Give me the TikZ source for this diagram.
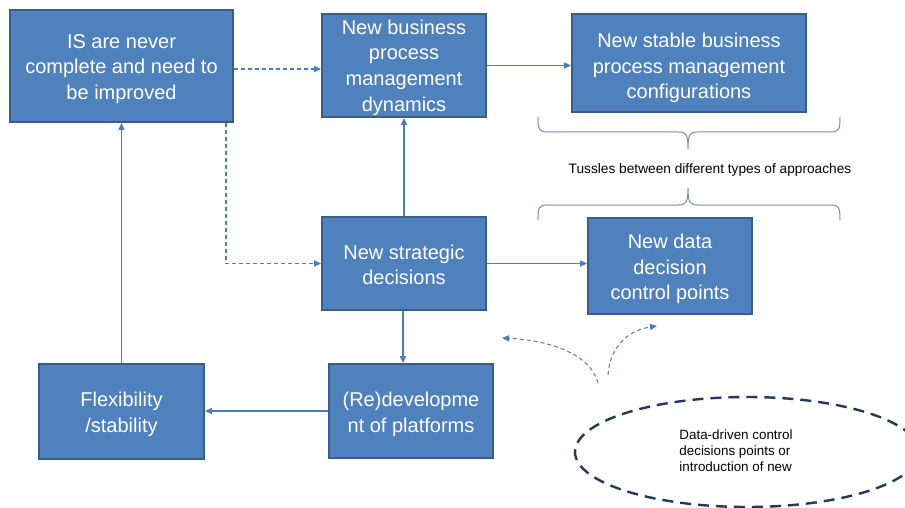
\documentclass[tikz,border=0pt]{standalone}
\usepackage{fontspec}
\setmainfont{Liberation Sans}
\usetikzlibrary{arrows.meta,shapes.geometric}
\definecolor{boxfill}{HTML}{4F81BD}
\definecolor{boxline}{HTML}{385D8A}
\definecolor{linkcol}{HTML}{4A7EBB}
\definecolor{ovalcol}{HTML}{1F3A60}
\begin{document}
\begin{tikzpicture}[x=1pt,y=-1pt,
  card/.style={draw=boxline,line width=1.8pt,fill=boxfill,inner sep=0pt},
  cardtext/.style={text=white,align=center,inner sep=0pt,yshift=-3pt,
    font=\fontsize{20}{25.7}\selectfont},
  link/.style={draw=linkcol,line width=1.2pt,-{Triangle[length=7pt,width=6pt]}},
  dlink/.style={link,dash pattern=on 4pt off 3pt},
  bracecurve/.style={draw=boxline!70,line width=1pt},
  note/.style={font=\fontsize{13.7}{16}\selectfont,text=black}]
\useasboundingbox (0,0) rectangle (905,508);
\fill[white] (0,0) rectangle (905,508);

% boxes, with their captions set a little below centre
\node[card,minimum width=223pt,minimum height=112pt,
  label={[cardtext]center:IS are never\\complete and need to\\be improved}] (A) at (121.5,66) {};
\node[card,minimum width=164pt,minimum height=103pt,
  label={[cardtext,yshift=1pt]center:New business\\process\\management\\dynamics}] (B) at (404,65.5) {};
\node[card,minimum width=234pt,minimum height=98pt,
  label={[cardtext,yshift=-2pt]center:New stable business\\process management\\configurations}] (C) at (689,63) {};
\node[card,minimum width=164pt,minimum height=93pt,
  label={[cardtext,yshift=1.5pt]center:New strategic\\decisions}] (D) at (404,263.5) {};
\node[card,minimum width=164pt,minimum height=96pt,
  label={[cardtext]center:New data\\decision\\control points}] (E) at (670,266) {};
\node[card,minimum width=164pt,minimum height=94pt,
  label={[cardtext]center:(Re)developme\\nt of platforms}] (F) at (411,411) {};
\node[card,minimum width=165pt,minimum height=95pt,
  label={[cardtext]center:Flexibility\\/stability}] (G) at (121.5,411.5) {};

% connectors
\draw[dlink] ([yshift=-3pt]A.east) -- ([yshift=-3pt]A.east -| B.west);
\draw[dlink] ([xshift=-8pt]A.south east) |- (D.west);
\draw[link] (B.east) -- (B.east -| C.west);
\draw[link] (D.north) -- (B.south);
\draw[link] (D.east) -- (D.east -| E.west);
\draw[link] ([xshift=-1pt]D.south) -- ([xshift=-1pt]D.south |- F.north);
\draw[link] (F.west) -- (F.west -| G.east);
\draw[link] (G.north) -- (A.south);

% braces around the label
\draw[bracecurve] (538,117) .. controls (538,130) and (539,132) .. (548,132) -- (678,132)
  .. controls (686,132) and (688,134) .. (688,149)
  .. controls (688,134) and (690,132) .. (698,132) -- (830,132)
  .. controls (839,132) and (840,130) .. (840,117);
\node[note] (T) at (710,170) {Tussles between different types of approaches};
\draw[bracecurve] (538,220) .. controls (538,207) and (539,205) .. (548,205) -- (678,205)
  .. controls (686,205) and (688,203) .. (688,188)
  .. controls (688,203) and (690,205) .. (698,205) -- (830,205)
  .. controls (839,205) and (840,207) .. (840,220);

% dashed oval
\node[ellipse,draw=ovalcol,line width=2.4pt,dash pattern=on 11pt off 7pt,
  minimum width=344pt,minimum height=110pt] (O) at (747,452) {};
\node[note,font=\fontsize{13.4}{16}\selectfont,align=left] (OT) at (736,451)
  {Data-driven control\\decisions points or\\introduction of new};

% curved dashed pointers
\coordinate (s1) at (598,383);
\coordinate (e1) at (502,338);
\coordinate (s2) at (608,375);
\coordinate (e2) at (657,326);
\draw[dlink,line width=1pt] (s1) .. controls (590,352) and (545,340) .. (e1);
\draw[dlink,line width=1pt] (s2) .. controls (610,345) and (630,330) .. (e2);
\end{tikzpicture}
\end{document}
